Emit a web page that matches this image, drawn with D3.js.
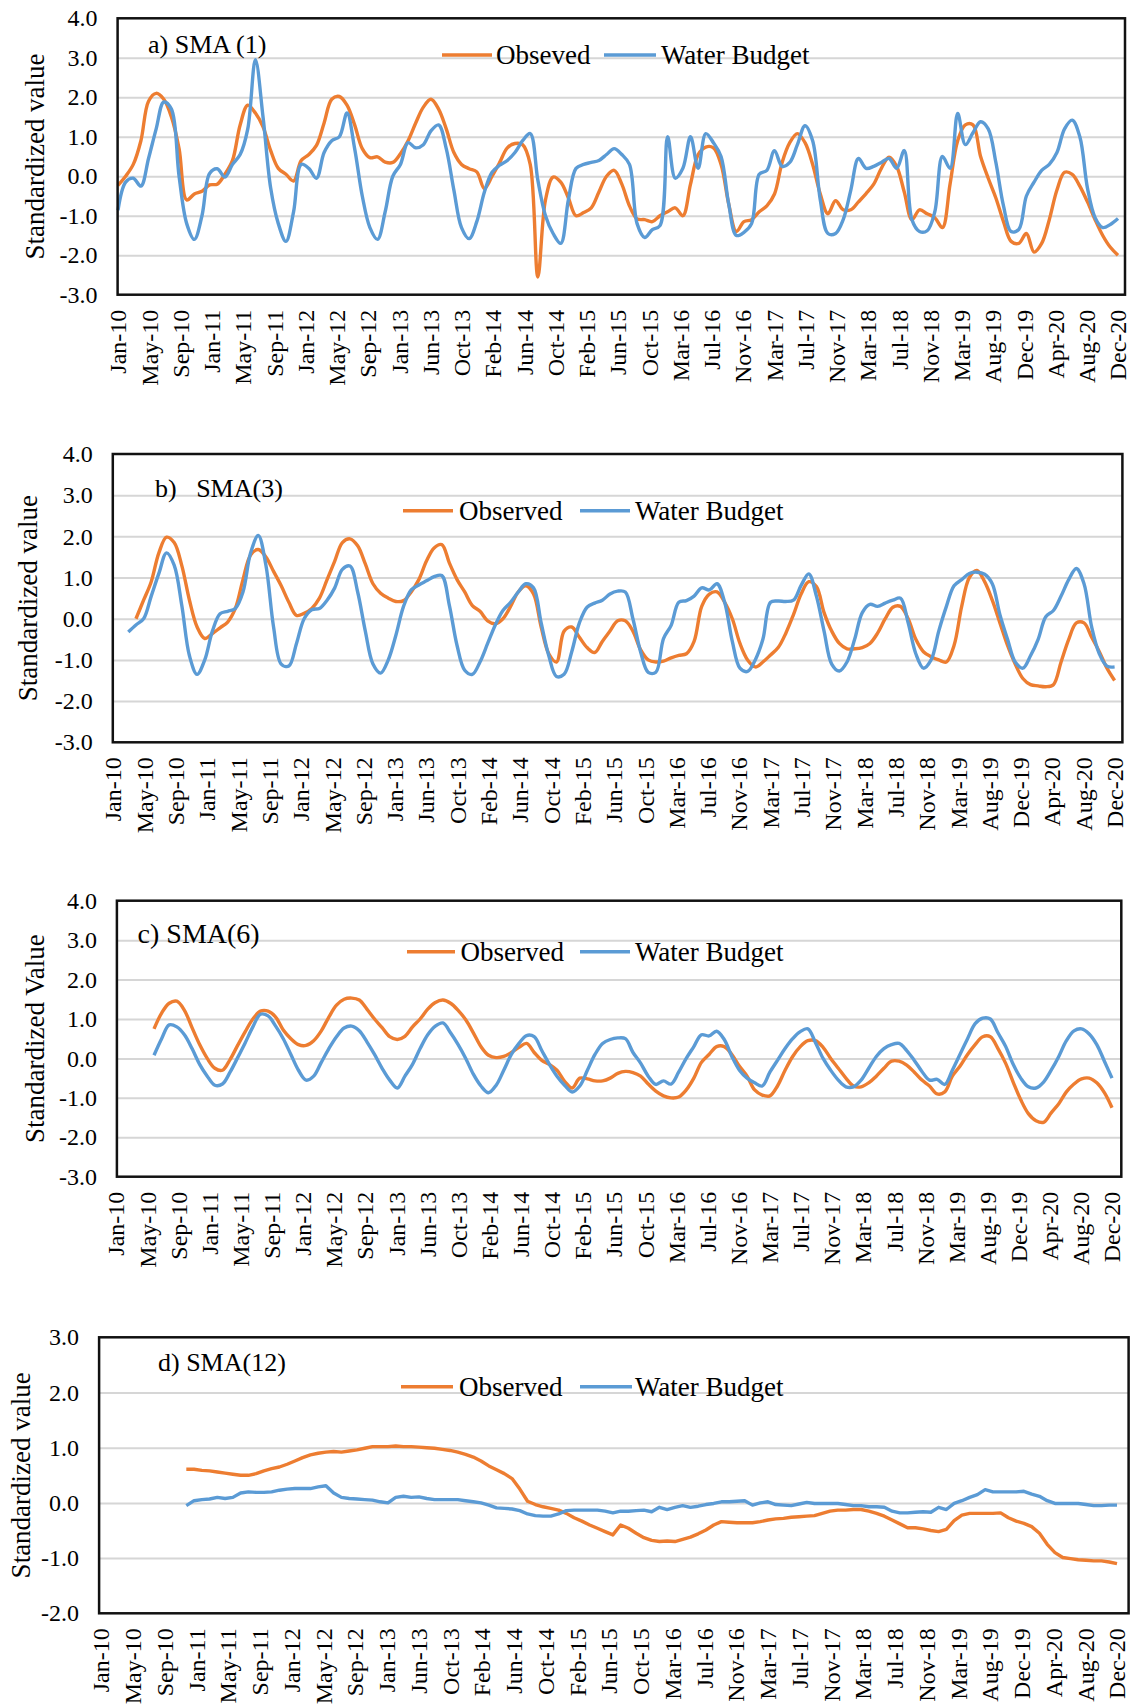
<!DOCTYPE html>
<html>
<head>
<meta charset="utf-8">
<script src="https://cdn.jsdelivr.net/npm/d3@7"></script>
<style>
  html, body { margin: 0; padding: 0; background: #fff; }
  text { font-family: "Liberation Serif", "Times New Roman", serif; fill: #000; }
</style>
</head>
<body>
<svg id="chart" width="1137" height="1707"></svg>
<script>
// ---------------- DATA ----------------
const tickLabels = ["Jan-10","May-10","Sep-10","Jan-11","May-11","Sep-11","Jan-12","May-12","Sep-12","Jan-13","Jun-13","Oct-13","Feb-14","Jun-14","Oct-14","Feb-15","Jun-15","Oct-15","Mar-16","Jul-16","Nov-16","Mar-17","Jul-17","Nov-17","Mar-18","Jul-18","Nov-18","Mar-19","Aug-19","Dec-19","Apr-20","Aug-20","Dec-20"];
const monthCount = 132; // Jan-2010 .. Dec-2020

// a) SMA(1) – month 0 onward
const obsA_start = 0;
const obsA = [-0.23,0.0,0.3,0.9,1.9,2.1,1.95,1.5,0.7,-0.6,
-0.45,-0.38,-0.22,-0.2,0.05,0.4,1.3,1.8,1.6,1.25,
0.65,0.2,0.05,-0.12,0.4,0.55,0.78,1.35,1.95,2.02,
1.8,1.3,0.7,0.47,0.49,0.36,0.35,0.57,0.9,1.35,
1.75,1.95,1.7,1.2,0.6,0.3,0.19,0.11,-0.31,0.0,
0.35,0.72,0.83,0.8,0.3,-2.55,-0.6,-0.02,-0.15,-0.55,
-1.0,-0.92,-0.8,-0.4,0.0,0.15,-0.2,-0.75,-1.08,-1.1,
-1.15,-1.0,-0.9,-0.8,-1.0,-0.2,0.55,0.74,0.72,0.3,
-0.7,-1.4,-1.15,-1.1,-0.9,-0.75,-0.45,0.35,0.85,1.08,
0.85,0.3,-0.45,-0.95,-0.62,-0.85,-0.85,-0.65,-0.44,-0.2,
0.2,0.48,0.25,-0.4,-1.1,-0.85,-0.95,-1.05,-1.3,-0.2,
0.9,1.3,1.3,0.5,-0.05,-0.55,-1.15,-1.65,-1.7,-1.45,
-1.92,-1.7,-1.1,-0.35,0.1,0.05,-0.25,-0.65,-1.1,-1.5,
-1.8,-2.0];
const wbA_start = 0;
const wbA = [-0.86,-0.15,-0.05,-0.25,0.45,1.2,1.88,1.7,0.0,-1.2,
-1.6,-1.0,0.07,0.19,-0.02,0.3,0.55,1.2,2.95,1.5,
-0.3,-1.2,-1.65,-0.9,0.3,0.2,-0.05,0.6,0.9,1.0,
1.6,0.7,-0.5,-1.3,-1.6,-0.9,0.0,0.3,0.85,0.72,
0.8,1.15,1.3,0.7,-0.35,-1.3,-1.58,-1.15,-0.4,0.1,
0.28,0.4,0.6,0.9,1.08,-0.1,-1.0,-1.45,-1.7,-0.6,
0.2,0.3,0.35,0.4,0.55,0.7,0.55,0.3,-1.2,-1.55,
-1.35,-1.25,1.0,-0.05,0.2,1.0,0.2,1.08,0.85,0.5,
-0.7,-1.5,-1.42,-1.2,0.05,0.15,0.65,0.25,0.35,0.8,
1.28,0.9,-0.6,-1.45,-1.45,-1.1,-0.35,0.45,0.2,0.25,
0.35,0.45,0.2,0.65,-1.1,-1.4,-1.38,-0.9,0.5,0.2,
1.59,0.8,1.1,1.38,1.2,0.35,-0.75,-1.4,-1.35,-0.5,
-0.15,0.15,0.3,0.6,1.2,1.42,1.0,-0.3,-1.05,-1.3,
-1.22,-1.07];

// b) SMA(3)
const obsB_start = 3;
const obsB = [0.0,0.45,0.9,1.6,1.98,1.85,1.29,0.45,-0.2,
-0.48,-0.36,-0.22,-0.08,0.25,0.95,1.55,1.68,1.5,1.15,
0.8,0.4,0.08,0.13,0.25,0.5,0.95,1.4,1.85,1.94,
1.77,1.33,0.85,0.62,0.5,0.42,0.44,0.65,0.95,1.4,
1.72,1.8,1.35,0.95,0.65,0.32,0.18,-0.05,-0.12,0.0,
0.3,0.65,0.8,0.6,-0.2,-0.85,-1.05,-0.3,-0.2,-0.45,
-0.7,-0.82,-0.55,-0.3,-0.05,-0.05,-0.3,-0.75,-1.0,-1.05,
-1.03,-0.95,-0.89,-0.85,-0.55,0.3,0.6,0.65,0.4,0.0,
-0.6,-1.0,-1.17,-1.05,-0.88,-0.7,-0.35,0.1,0.6,0.9,
0.78,0.15,-0.3,-0.6,-0.73,-0.73,-0.7,-0.6,-0.35,0.0,
0.28,0.3,0.0,-0.5,-0.8,-0.92,-1.0,-1.05,-0.65,0.3,
1.0,1.17,0.9,0.45,-0.1,-0.65,-1.1,-1.45,-1.6,-1.63,
-1.65,-1.6,-1.05,-0.5,-0.1,-0.1,-0.45,-0.8,-1.2,-1.5];
const wbB_start = 2;
const wbB = [-0.32,-0.15,0.0,0.55,1.1,1.6,1.3,0.32,-0.9,-1.35,
-1.0,-0.3,0.12,0.18,0.25,0.65,1.6,2.02,1.3,-0.2,
-1.1,-1.15,-0.6,0.0,0.22,0.25,0.45,0.75,1.2,1.28,
0.65,-0.3,-1.1,-1.32,-1.0,-0.4,0.3,0.7,0.82,0.92,
1.02,1.05,0.32,-0.65,-1.25,-1.35,-1.05,-0.6,-0.15,0.2,
0.4,0.65,0.85,0.75,-0.1,-0.9,-1.4,-1.35,-0.8,-0.1,
0.28,0.38,0.45,0.6,0.67,0.65,0.0,-0.8,-1.3,-1.3,
-0.48,-0.16,0.4,0.44,0.55,0.75,0.7,0.85,0.4,-0.55,
-1.2,-1.28,-1.0,-0.5,0.4,0.43,0.42,0.45,0.81,1.09,
0.55,-0.3,-1.1,-1.27,-1.05,-0.5,0.15,0.35,0.3,0.38,
0.45,0.5,-0.1,-0.85,-1.2,-1.0,-0.3,0.3,0.8,0.95,
1.1,1.13,1.08,0.85,0.1,-0.5,-1.05,-1.2,-0.9,-0.5,
0.05,0.2,0.55,0.95,1.22,0.85,-0.2,-0.85,-1.15,-1.17];

// c) SMA(6)
const obsC_start = 5;
const obsC = [0.75,1.15,1.4,1.45,1.22,
0.78,0.35,0.0,-0.25,-0.3,-0.03,0.33,0.68,1.0,1.2,
1.2,1.05,0.72,0.5,0.35,0.33,0.45,0.7,1.05,1.35,
1.5,1.53,1.48,1.25,1.0,0.78,0.55,0.48,0.56,0.8,
1.0,1.25,1.42,1.48,1.4,1.22,0.98,0.65,0.3,0.08,
0.02,0.05,0.15,0.28,0.38,0.15,-0.05,-0.15,-0.3,-0.58,
-0.75,-0.5,-0.52,-0.57,-0.57,-0.5,-0.38,-0.33,-0.36,-0.45,
-0.65,-0.83,-0.95,-1.0,-0.98,-0.8,-0.5,-0.1,0.1,0.3,
0.3,0.1,-0.2,-0.45,-0.8,-0.93,-0.95,-0.7,-0.3,0.05,
0.3,0.45,0.45,0.28,0.0,-0.25,-0.5,-0.7,-0.72,-0.62,
-0.45,-0.25,-0.07,-0.07,-0.17,-0.35,-0.55,-0.7,-0.9,-0.85,
-0.45,-0.2,0.1,0.35,0.55,0.55,0.25,-0.12,-0.6,-1.05,
-1.4,-1.58,-1.62,-1.38,-1.15,-0.85,-0.65,-0.52,-0.5,-0.62,
-0.87,-1.25];
const wbC_start = 5;
const wbC = [0.08,0.5,0.85,0.8,0.6,
0.25,-0.15,-0.45,-0.68,-0.65,-0.35,0.02,0.4,0.8,1.12,
1.08,0.82,0.5,0.1,-0.3,-0.55,-0.45,-0.1,0.25,0.55,
0.77,0.82,0.7,0.42,0.1,-0.25,-0.55,-0.75,-0.45,-0.15,
0.25,0.6,0.82,0.9,0.65,0.35,0.0,-0.4,-0.7,-0.87,
-0.68,-0.3,0.1,0.38,0.58,0.55,0.2,-0.15,-0.45,-0.68,
-0.85,-0.7,-0.3,0.1,0.38,0.48,0.52,0.5,0.15,-0.12,
-0.45,-0.66,-0.57,-0.65,-0.35,0.0,0.3,0.6,0.57,0.69,
0.48,0.05,-0.3,-0.5,-0.62,-0.7,-0.35,-0.05,0.25,0.5,
0.68,0.75,0.4,0.0,-0.3,-0.55,-0.72,-0.72,-0.55,-0.25,
0.05,0.25,0.35,0.38,0.2,-0.05,-0.33,-0.55,-0.53,-0.66,
-0.3,0.1,0.5,0.88,1.02,1.0,0.65,0.31,-0.15,-0.5,
-0.72,-0.75,-0.6,-0.3,0.05,0.45,0.7,0.75,0.62,0.35,
-0.07,-0.5];

// d) SMA(12)
const obsD_start = 11;
const obsD = [0.61,0.61,0.59,0.58,0.56,0.54,0.52,0.5,0.5,
0.53,0.58,0.62,0.65,0.7,0.76,0.82,0.87,0.9,0.92,
0.93,0.92,0.94,0.96,0.99,1.02,1.02,1.02,1.03,1.02,
1.02,1.01,1.0,0.99,0.97,0.95,0.92,0.88,0.83,0.76,
0.67,0.6,0.53,0.44,0.25,0.03,-0.03,-0.07,-0.1,-0.13,
-0.19,-0.27,-0.33,-0.4,-0.46,-0.52,-0.58,-0.4,-0.46,-0.55,
-0.63,-0.68,-0.7,-0.69,-0.7,-0.66,-0.62,-0.56,-0.49,-0.4,
-0.34,-0.35,-0.36,-0.36,-0.36,-0.34,-0.31,-0.29,-0.28,-0.26,
-0.25,-0.24,-0.23,-0.19,-0.15,-0.13,-0.13,-0.12,-0.12,-0.15,
-0.19,-0.24,-0.31,-0.38,-0.45,-0.45,-0.47,-0.5,-0.52,-0.48,
-0.32,-0.22,-0.19,-0.19,-0.19,-0.19,-0.18,-0.27,-0.33,-0.37,
-0.43,-0.55,-0.75,-0.9,-0.99,-1.01,-1.03,-1.04,-1.05,-1.05,
-1.07,-1.1];
const wbD_start = 11;
const wbD = [-0.05,0.04,0.06,0.07,0.1,0.08,0.1,0.18,0.2,
0.19,0.19,0.2,0.23,0.25,0.26,0.26,0.26,0.29,0.31,
0.18,0.1,0.08,0.07,0.06,0.05,0.02,0.0,0.1,0.12,
0.1,0.11,0.08,0.06,0.06,0.06,0.06,0.04,0.02,0.0,
-0.04,-0.09,-0.1,-0.11,-0.14,-0.2,-0.23,-0.24,-0.24,-0.2,
-0.14,-0.13,-0.13,-0.13,-0.13,-0.15,-0.18,-0.15,-0.15,-0.14,
-0.13,-0.16,-0.08,-0.12,-0.08,-0.05,-0.08,-0.06,-0.03,-0.01,
0.02,0.02,0.03,0.04,-0.04,0.0,0.02,-0.03,-0.04,-0.05,
-0.02,0.01,-0.01,-0.01,-0.01,-0.01,-0.03,-0.05,-0.05,-0.07,
-0.07,-0.08,-0.15,-0.18,-0.18,-0.17,-0.16,-0.17,-0.08,-0.12,
-0.01,0.04,0.1,0.15,0.24,0.2,0.2,0.2,0.2,0.21,
0.16,0.12,0.04,-0.01,-0.01,-0.01,-0.01,-0.03,-0.05,-0.05,
-0.04,-0.04];

const seriesNames = ["Observed", "Water Budget"];
const seriesNamesA = ["Obseved", "Water Budget"]; // as printed in panel a
const colors = ["#ED7D31", "#5B9BD5"];

// ---------------- LAYOUT ----------------
const panels = [
  { title: "a) SMA (1)", ylab: "Standardized value", names: seriesNamesA,
    obs: obsA, obsStart: obsA_start, wb: wbA, wbStart: wbA_start,
    left: 117.6, right: 1125, top: 18.3, bottom: 294.7, ymin: -3, ymax: 4,
    x0: 118, x1: 1118, ytitleX: 35, titleX: 148, titleY: 53, titleSize: 26,
    legY: 55, leg: [[442, 492, 496], [604, 656, 661]], smooth: true },
  { title: "b)\u00A0\u00A0 SMA(3)", ylab: "Standardized value", names: seriesNames,
    obs: obsB, obsStart: obsB_start, wb: wbB, wbStart: wbB_start,
    left: 112.8, right: 1122.4, top: 454, bottom: 742.3, ymin: -3, ymax: 4,
    x0: 113, x1: 1114.6, ytitleX: 28, titleX: 155, titleY: 497, titleSize: 26,
    legY: 510.7, leg: [[403, 453, 459], [580, 630, 635]], smooth: true },
  { title: "c) SMA(6)", ylab: "Standardized Value", names: seriesNames,
    obs: obsC, obsStart: obsC_start, wb: wbC, wbStart: wbC_start,
    left: 116.9, right: 1121.3, top: 900.7, bottom: 1176.7, ymin: -3, ymax: 4,
    x0: 116, x1: 1112, ytitleX: 35, titleX: 137.6, titleY: 943, titleSize: 28,
    legY: 951.7, leg: [[407, 455, 460.6], [580, 630, 635]], smooth: true },
  { title: "d) SMA(12)", ylab: "Standardized value", names: seriesNames,
    obs: obsD, obsStart: obsD_start, wb: wbD, wbStart: wbD_start,
    left: 99.1, right: 1128.6, top: 1337.3, bottom: 1613.3, ymin: -2, ymax: 3,
    x0: 101, x1: 1117, ytitleX: 21, titleX: 158, titleY: 1371, titleSize: 26,
    legY: 1386.7, leg: [[401, 453, 459], [580, 632, 635]], smooth: false }
];

const svg = d3.select("#chart");
svg.append("rect").attr("width", 1137).attr("height", 1707).attr("fill", "#fff");

panels.forEach(p => {
  const g = svg.append("g");
  const x = d3.scaleLinear().domain([0, monthCount - 1]).range([p.x0, p.x1]);
  const y = d3.scaleLinear().domain([p.ymin, p.ymax]).range([p.bottom, p.top]);
  const yTicks = d3.range(p.ymin, p.ymax + 0.001, 1);

  // gridlines
  g.append("g")
    .attr("transform", `translate(${p.left},0)`)
    .call(d3.axisLeft(y).tickValues(yTicks.slice(1, -1)).tickSize(-(p.right - p.left)).tickFormat(""))
    .call(a => a.select(".domain").remove())
    .call(a => a.selectAll("line").attr("stroke", "#D6D6D6").attr("stroke-width", 2));

  // y tick labels
  g.append("g")
    .attr("transform", `translate(${p.left},0)`)
    .call(d3.axisLeft(y).tickValues(yTicks).tickSize(0).tickPadding(20).tickFormat(v => v.toFixed(1)))
    .call(a => a.select(".domain").remove())
    .call(a => a.selectAll("text")
      .attr("font-family", '"Liberation Serif", "Times New Roman", serif')
      .attr("font-size", 24).attr("fill", "#000"));

  // x tick labels (33 evenly spaced labels across the months)
  const tickPos = tickLabels.map((_, k) => k * (monthCount - 1) / (tickLabels.length - 1));
  g.append("g")
    .attr("transform", `translate(0,${p.bottom})`)
    .call(d3.axisBottom(x).tickValues(tickPos).tickSize(0).tickFormat((d, i) => tickLabels[i]))
    .call(a => a.select(".domain").remove())
    .call(a => a.selectAll("text")
      .attr("font-family", '"Liberation Serif", "Times New Roman", serif')
      .attr("font-size", 24).attr("fill", "#000")
      .attr("transform", "rotate(-90)")
      .attr("text-anchor", "end")
      .attr("x", -15).attr("y", 0).attr("dy", "0.33em"));

  // series
  const curve = p.smooth ? d3.curveCatmullRom.alpha(0.5) : d3.curveLinear;
  const mkLine = start => d3.line().x((d, i) => x(start + i)).y(d => y(d)).curve(curve);
  g.append("path").attr("d", mkLine(p.obsStart)(p.obs))
    .attr("fill", "none").attr("stroke", colors[0]).attr("stroke-width", 3.4).attr("stroke-linejoin", "round");
  g.append("path").attr("d", mkLine(p.wbStart)(p.wb))
    .attr("fill", "none").attr("stroke", colors[1]).attr("stroke-width", 3.4).attr("stroke-linejoin", "round");

  // border
  g.append("rect")
    .attr("x", p.left).attr("y", p.top)
    .attr("width", p.right - p.left).attr("height", p.bottom - p.top)
    .attr("fill", "none").attr("stroke", "#111").attr("stroke-width", 2.5);

  // y axis title
  g.append("text")
    .attr("transform", `translate(${p.ytitleX},${(p.top + p.bottom) / 2}) rotate(-90)`)
    .attr("text-anchor", "middle").attr("dy", "0.35em")
    .attr("font-size", 27).text(p.ylab);

  // panel title
  g.append("text").attr("x", p.titleX).attr("y", p.titleY)
    .attr("font-size", p.titleSize).text(p.title);

  // legend
  p.leg.forEach((l, i) => {
    g.append("line").attr("x1", l[0]).attr("x2", l[1]).attr("y1", p.legY).attr("y2", p.legY)
      .attr("stroke", colors[i]).attr("stroke-width", 3.4);
    g.append("text").attr("x", l[2]).attr("y", p.legY + 9)
      .attr("font-size", 27).text(p.names[i]);
  });
});
</script>
</body>
</html>
